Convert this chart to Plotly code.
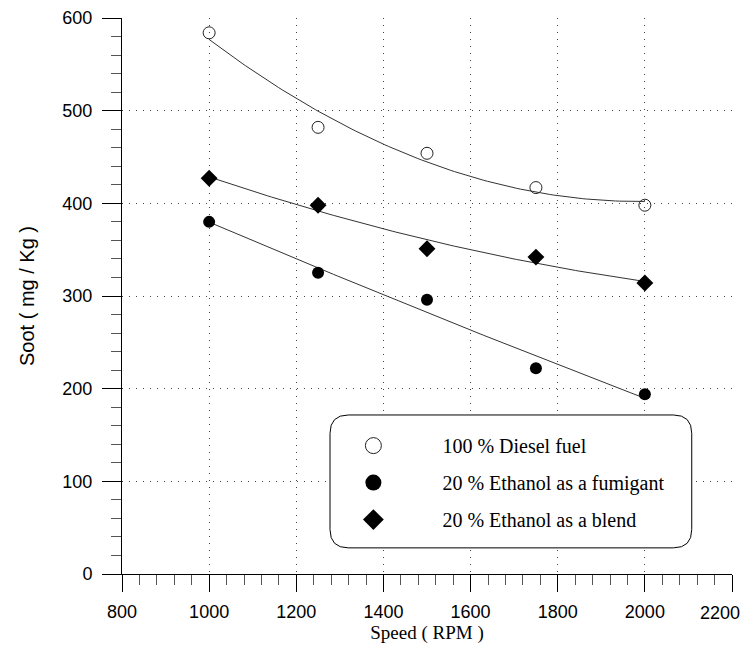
import numpy as np
import plotly.graph_objects as go

speed = [1000, 1250, 1500, 1750, 2000]
diesel = [584, 482, 454, 417, 398]
fumigant = [380, 325, 296, 222, 194]
blend = [427, 398, 351, 342, 314]

names = ["100 % Diesel fuel", "20 % Ethanol as a fumigant", "20 % Ethanol as a blend"]
x_ticks = [800, 1000, 1200, 1400, 1600, 1800, 2000, 2200]
y_ticks = [0, 100, 200, 300, 400, 500, 600]
x_labels = [str(v) for v in x_ticks]

fig = go.Figure()

series = [
    (diesel, names[0], dict(symbol="circle-open", size=12, color="#222", line=dict(width=1, color="#222")),
     dict(symbol="circle-open", size=22, color="#222", line=dict(width=1, color="#222"))),
    (fumigant, names[1], dict(symbol="circle", size=12, color="black"),
     dict(symbol="circle", size=22, color="black")),
    (blend, names[2], dict(symbol="diamond", size=13, color="black"),
     dict(symbol="diamond", size=22, color="black")),
]

xf = np.linspace(min(speed), max(speed), 120)
for i, (vals, name, mk, mk_leg) in enumerate(series):
    coef = np.polyfit(speed, vals, 2)
    fig.add_trace(go.Scatter(x=xf, y=np.polyval(coef, xf), mode="lines",
                             line=dict(color="#333", width=1), showlegend=False, hoverinfo="skip"))
    fig.add_trace(go.Scatter(x=speed, y=vals, mode="markers", marker=mk, showlegend=False, name=name))
    fig.add_trace(go.Scatter(x=[None], y=[None], mode="markers", marker=mk_leg, name=name,
                             legendgroup="g%d" % i, showlegend=True))

tick_font = dict(family="Liberation Sans, Arial", size=18, color="black")
axis_common = dict(
    showline=True, linecolor="black", linewidth=1, automargin=False,
    showgrid=True, gridcolor="#444", griddash="1px,6px", gridwidth=1,
    zeroline=False, ticks="outside", tickcolor="black", tickwidth=1,
    tickfont=tick_font,
)

# the last x label sits nudged inward (as in the reference), drawn as an annotation at its tick
fig.update_xaxes(range=[800, 2200], tickvals=x_ticks, ticktext=x_labels[:-1] + [""], ticklen=17,
                 minor=dict(dtick=40, ticks="outside", ticklen=10, tickcolor="#555", showgrid=False),
                 title=dict(text="Speed ( RPM )", font=dict(family="Liberation Serif, Times New Roman", size=19, color="black"),
                            standoff=2),
                 ticklabelstandoff=4,
                 **axis_common)
fig.add_annotation(x=x_ticks[-1], xref="x", y=0, yref="paper", text=x_labels[-1],
                   showarrow=False, xanchor="center", yanchor="top", xshift=-12, yshift=-27,
                   font=tick_font)

fig.update_yaxes(range=[0, 600], tickvals=y_ticks, ticklen=19,
                 minor=dict(dtick=20, ticks="outside", ticklen=10, tickcolor="#555", showgrid=False),
                 title=dict(text="Soot ( mg / Kg )", font=dict(family="Liberation Sans, Arial", size=20, color="black"),
                            standoff=22),
                 ticklabelstandoff=6,
                 **axis_common)

# rounded legend frame
x0, x1, y0, y1, r = 0.341, 0.934, 0.047, 0.286, 0.03
ry = r * 610 / 555
path = (f"M {x0+r},{y0} L {x1-r},{y0} Q {x1},{y0} {x1},{y0+ry} L {x1},{y1-ry} Q {x1},{y1} {x1-r},{y1} "
        f"L {x0+r},{y1} Q {x0},{y1} {x0},{y1-ry} L {x0},{y0+ry} Q {x0},{y0} {x0+r},{y0} Z")
fig.add_shape(type="path", path=path, xref="paper", yref="paper",
              line=dict(color="black", width=1), fillcolor="white", layer="above")

# page body has an 8px margin: compensate so the plot area lands where the reference has it
fig.update_layout(
    width=742, height=638,
    margin=dict(l=114, r=18, t=10, b=72),
    paper_bgcolor="white", plot_bgcolor="white",
    showlegend=True,
    legend=dict(x=0.299, y=0.266, xanchor="left", yanchor="top",
                bgcolor="rgba(0,0,0,0)", borderwidth=0,
                font=dict(family="Liberation Serif, Times New Roman", size=20, color="black"),
                tracegroupgap=8, itemsizing="trace", itemwidth=128),
)

fig.write_html("out.html")
